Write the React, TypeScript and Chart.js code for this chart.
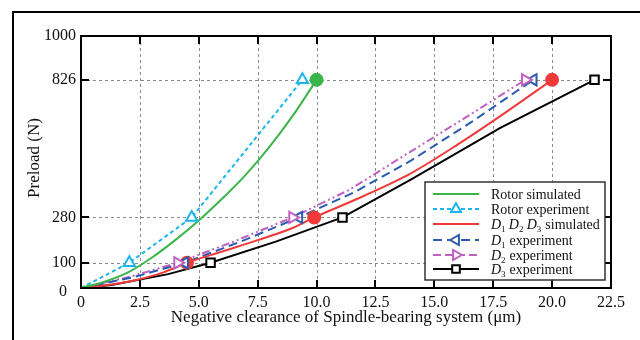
import React, { useEffect, useRef } from 'react';
import { Chart, registerables } from 'chart.js';

Chart.register(...registerables);

// ---- data ----
const xTickValues = [0, 2.5, 5, 7.5, 10, 12.5, 15, 17.5, 20, 22.5];
const yTickValues = [0, 100, 280, 826, 1000];

const rotorSimX = [0, 1, 2, 3, 4, 5, 6, 7, 8, 9, 10];
const rotorSimY = [0, 25, 62, 120, 190, 268, 355, 450, 560, 685, 826];
const rotorSimMarkX = [10];
const rotorSimMarkY = [826];

const rotorExpX = [0, 2.05, 4.7, 9.4];
const rotorExpY = [0, 100, 280, 826];
const rotorExpMarkX = [2.05, 4.7, 9.4];
const rotorExpMarkY = [100, 280, 826];

const dSimX = [0, 1, 2.25, 3.5, 4.5, 6, 7.5, 8.9, 9.9, 12, 14, 16, 18, 20];
const dSimY = [0, 10, 30, 62, 100, 145, 190, 235, 280, 365, 455, 570, 695, 826];
const dSimMarkX = [4.5, 9.9, 20];
const dSimMarkY = [100, 280, 826];

const d1X = [0, 2.2, 4.4, 6.8, 9.25, 11.6, 14, 16.6, 19.2];
const d1Y = [0, 42, 100, 185, 280, 380, 505, 660, 826];
const d1MarkX = [4.4, 9.25, 19.2];
const d1MarkY = [100, 280, 826];

const d2X = [0, 2.1, 4.1, 6.5, 8.98, 11.4, 13.8, 16.3, 18.86];
const d2Y = [0, 45, 100, 185, 280, 390, 530, 675, 826];
const d2MarkX = [4.1, 8.98, 18.86];
const d2MarkY = [100, 280, 826];

const d3X = [0, 1.3, 3.7, 5.5, 8.3, 11.1, 14, 17.8, 21.8];
const d3Y = [0, 12, 55, 100, 185, 280, 430, 635, 826];
const d3MarkX = [5.5, 11.1, 21.8];
const d3MarkY = [100, 280, 826];

const xTitle = 'Negative clearance of Spindle-bearing system (μm)';
const yTitle = 'Preload (N)';

// ---- styles ----
const GREEN = '#3bb54a';
const CYAN = '#1db4ec';
const RED = '#f03a3a';
const BLUE = '#2b5bb0';
const MAGENTA = '#bf62bf';
const BLACK = '#000000';
const FONT = "'Liberation Serif', 'Times New Roman', serif";

const pts = (xs: number[], ys: number[]) => xs.map((x, i) => ({ x, y: ys[i] }));

type Series = {
  line: { x: number; y: number }[];
  marks: { x: number; y: number }[];
  color: string;
  dash: number[];
  style: string;
  rot: number;
  radius: number;
  filled: boolean;
  smooth: boolean;
};

const series: Series[] = [
  { line: pts(rotorSimX, rotorSimY), marks: pts(rotorSimMarkX, rotorSimMarkY), color: GREEN, dash: [], style: 'circle', rot: 0, radius: 6, filled: true, smooth: true },
  { line: pts(rotorExpX, rotorExpY), marks: pts(rotorExpMarkX, rotorExpMarkY), color: CYAN, dash: [4, 3], style: 'triangle', rot: 0, radius: 6.5, filled: false, smooth: false },
  { line: pts(dSimX, dSimY), marks: pts(dSimMarkX, dSimMarkY), color: RED, dash: [], style: 'circle', rot: 0, radius: 6, filled: true, smooth: true },
  { line: pts(d1X, d1Y), marks: pts(d1MarkX, d1MarkY), color: BLUE, dash: [9, 5], style: 'triangle', rot: -90, radius: 6.5, filled: false, smooth: false },
  { line: pts(d2X, d2Y), marks: pts(d2MarkX, d2MarkY), color: MAGENTA, dash: [8, 3, 2, 3, 2, 3], style: 'triangle', rot: 90, radius: 6.5, filled: false, smooth: false },
  { line: pts(d3X, d3Y), marks: pts(d3MarkX, d3MarkY), color: BLACK, dash: [], style: 'rect', rot: 0, radius: 6, filled: false, smooth: false },
];

function drawMarker(ctx: CanvasRenderingContext2D, style: string, x: number, y: number, r: number, rot: number, color: string, filled: boolean) {
  ctx.save();
  ctx.setLineDash([]);
  ctx.lineWidth = 2;
  ctx.strokeStyle = color;
  ctx.fillStyle = filled ? color : '#ffffff';
  ctx.beginPath();
  if (style === 'circle') {
    ctx.arc(x, y, r, 0, Math.PI * 2);
  } else if (style === 'rect') {
    const s = r * Math.SQRT1_2;
    ctx.rect(x - s, y - s, 2 * s, 2 * s);
  } else {
    for (let k = 0; k < 3; k++) {
      const a = ((-90 + rot + k * 120) * Math.PI) / 180;
      const px = x + r * Math.cos(a);
      const py = y + r * Math.sin(a);
      if (k === 0) ctx.moveTo(px, py);
      else ctx.lineTo(px, py);
    }
    ctx.closePath();
  }
  ctx.fill();
  ctx.stroke();
  ctx.restore();
}

const legendItems = [
  { idx: 0, marker: false, parts: [['Rotor simulated', 'n']] },
  { idx: 1, marker: true, parts: [['Rotor experiment', 'n']] },
  { idx: 2, marker: false, parts: [['D', 'i'], ['1', 's'], [' ', 'g'], ['D', 'i'], ['2', 's'], [' ', 'g'], ['D', 'i'], ['3', 's'], [' simulated', 'n']] },
  { idx: 3, marker: true, parts: [['D', 'i'], ['1', 's'], [' experiment', 'n']] },
  { idx: 4, marker: true, parts: [['D', 'i'], ['2', 's'], [' experiment', 'n']] },
  { idx: 5, marker: true, parts: [['D', 'i'], ['3', 's'], [' experiment', 'n']] },
];

const decor = {
  id: 'decor',
  beforeDraw(chart: any) {
    const ctx = chart.ctx as CanvasRenderingContext2D;
    ctx.save();
    ctx.fillStyle = '#ffffff';
    ctx.fillRect(0, 0, chart.width, chart.height);
    ctx.restore();
  },
  beforeDatasetsDraw(chart: any) {
    const ctx = chart.ctx as CanvasRenderingContext2D;
    const { left, right, top, bottom } = chart.chartArea;
    const xs = chart.scales.x;
    const ys = chart.scales.y;
    ctx.save();
    ctx.strokeStyle = '#8a8a8a';
    ctx.lineWidth = 1;
    ctx.setLineDash([3, 3]);
    xTickValues.forEach((v) => {
      if (v <= 0 || v >= 22.5) return;
      const px = Math.round(xs.getPixelForValue(v)) + 0.5;
      ctx.beginPath();
      ctx.moveTo(px, top);
      ctx.lineTo(px, bottom);
      ctx.stroke();
    });
    yTickValues.forEach((v) => {
      if (v <= 0 || v >= 1000) return;
      const py = Math.round(ys.getPixelForValue(v)) + 0.5;
      ctx.beginPath();
      ctx.moveTo(left, py);
      ctx.lineTo(right, py);
      ctx.stroke();
    });
    ctx.restore();
  },
  afterDatasetsDraw(chart: any) {
    const ctx = chart.ctx as CanvasRenderingContext2D;
    const { left, right, top, bottom } = chart.chartArea;
    const xs = chart.scales.x;
    const ys = chart.scales.y;

    // markers on top of lines
    series.forEach((s) => {
      s.marks.forEach((p) => {
        drawMarker(ctx, s.style, xs.getPixelForValue(p.x), ys.getPixelForValue(p.y), s.radius, s.rot, s.color, s.filled);
      });
    });

    ctx.save();
    // plot box
    ctx.strokeStyle = '#000';
    ctx.lineWidth = 2;
    ctx.setLineDash([]);
    ctx.strokeRect(left, top, right - left, bottom - top);
    // inward ticks
    const TL = 8;
    ctx.beginPath();
    xTickValues.forEach((v) => {
      if (v <= 0 || v >= 22.5) return;
      const px = Math.round(xs.getPixelForValue(v));
      ctx.moveTo(px, bottom);
      ctx.lineTo(px, bottom - TL);
      ctx.moveTo(px, top);
      ctx.lineTo(px, top + TL);
    });
    yTickValues.forEach((v) => {
      if (v <= 0 || v >= 1000) return;
      const py = Math.round(ys.getPixelForValue(v));
      ctx.moveTo(left, py);
      ctx.lineTo(left + TL, py);
      ctx.moveTo(right, py);
      ctx.lineTo(right - TL, py);
    });
    ctx.stroke();

    // y "0" label (offset like the reference)
    ctx.fillStyle = '#111';
    ctx.font = `16px ${FONT}`;
    ctx.textAlign = 'right';
    ctx.textBaseline = 'middle';
    ctx.fillText('0', left - 14, bottom + 4);

    // axis titles
    ctx.font = `17px ${FONT}`;
    ctx.textAlign = 'center';
    ctx.textBaseline = 'middle';
    ctx.fillText(xTitle, (left + right) / 2, 318);
    ctx.save();
    ctx.translate(35, (top + bottom) / 2 - 4);
    ctx.rotate(-Math.PI / 2);
    ctx.fillText(yTitle, 0, 0);
    ctx.restore();

    // legend
    const lx = 425, ly = 182, lw = 180, lh = 98;
    ctx.fillStyle = '#fff';
    ctx.fillRect(lx, ly, lw, lh);
    ctx.strokeStyle = '#333';
    ctx.lineWidth = 1.5;
    ctx.strokeRect(lx, ly, lw, lh);
    const rowY = [194, 209, 224, 240, 255, 269];
    legendItems.forEach((item, i) => {
      const s = series[item.idx];
      const y = rowY[i];
      ctx.save();
      ctx.strokeStyle = s.color;
      ctx.lineWidth = 2;
      ctx.setLineDash(item.idx === 4 ? [8, 4] : s.dash);
      ctx.beginPath();
      ctx.moveTo(433, y);
      ctx.lineTo(479, y);
      ctx.stroke();
      ctx.restore();
      if (item.marker) drawMarker(ctx, s.style, 456, y, s.radius * 0.9, s.rot, s.color, s.filled);
      let x = 491;
      ctx.fillStyle = '#111';
      ctx.textAlign = 'left';
      ctx.textBaseline = 'alphabetic';
      item.parts.forEach(([t, k]) => {
        let dy = 0;
        if (k === 'i') ctx.font = `italic 14px ${FONT}`;
        else if (k === 's') { ctx.font = `9px ${FONT}`; dy = 3; }
        else if (k === 'g') ctx.font = `11px ${FONT}`;
        else ctx.font = `14px ${FONT}`;
        ctx.fillText(t, x, y + 5 + dy);
        x += ctx.measureText(t).width + (k === 's' ? 0.5 : 0);
      });
    });

    // outer frame (top & left)
    ctx.fillStyle = '#000';
    ctx.fillRect(12, 11, chart.width - 12, 2);
    ctx.fillRect(12, 11, 2, chart.height - 11);
    ctx.restore();
  },
};

export default function App() {
  const ref = useRef<HTMLCanvasElement | null>(null);
  useEffect(() => {
    if (!ref.current) return;
    const datasets: any[] = series.map((s) => ({
      data: s.line,
      borderColor: s.color,
      borderWidth: 2,
      borderDash: s.dash,
      pointRadius: 0,
      pointHoverRadius: 0,
      fill: false,
      showLine: true,
      tension: 0,
      cubicInterpolationMode: s.smooth ? 'monotone' : 'default',
    }));
    const chart = new Chart(ref.current, {
      type: 'scatter',
      data: { datasets },
      plugins: [decor],
      options: {
        animation: false,
        responsive: false,
        events: [],
        layout: { padding: { left: 0, top: 36, right: 29, bottom: 0 } },
        plugins: { legend: { display: false }, tooltip: { enabled: false }, title: { display: false } },
        scales: {
          x: {
            type: 'linear',
            min: 0,
            max: 22.5,
            afterBuildTicks: (s: any) => { s.ticks = xTickValues.map((v) => ({ value: v })); },
            afterFit: (s: any) => { s.height = 52; },
            ticks: {
              color: '#111',
              padding: 5,
              maxRotation: 0,
              autoSkip: false,
              font: { family: FONT, size: 16 },
              callback: (v: any) => (v === 0 ? '0' : Number(v).toFixed(1)),
            },
            grid: { display: false, drawTicks: false },
            border: { display: false },
          },
          y: {
            type: 'linear',
            min: 0,
            max: 1000,
            afterBuildTicks: (s: any) => { s.ticks = yTickValues.map((v) => ({ value: v })); },
            afterFit: (s: any) => { s.width = 81; },
            ticks: {
              color: '#111',
              padding: 5,
              autoSkip: false,
              font: { family: FONT, size: 16 },
              callback: (v: any) => (v === 0 ? '' : String(v)),
            },
            grid: { display: false, drawTicks: false },
            border: { display: false },
          },
        },
      },
    });
    return () => chart.destroy();
  }, []);
  return (
    <div style={{ position: 'absolute', left: 0, top: 0, width: 640, height: 340, background: '#fff' }}>
      <canvas ref={ref} width={640} height={340} style={{ display: 'block' }} />
    </div>
  );
}
